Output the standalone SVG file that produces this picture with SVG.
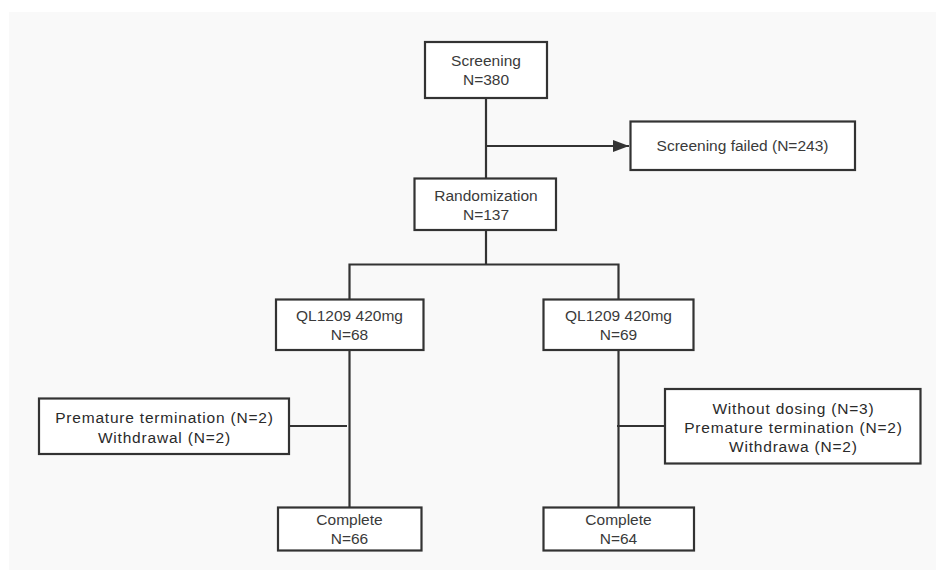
<svg xmlns="http://www.w3.org/2000/svg" width="936" height="570" viewBox="0 0 936 570">
<style>
.box{fill:#ffffff;stroke:#333333;stroke-width:2.2}
.t{font-family:"Liberation Sans",Arial,sans-serif;font-size:15.5px;fill:#3a3a3a;text-anchor:middle}
.s{font-family:"Liberation Sans",Arial,sans-serif;font-size:15.5px;letter-spacing:0.8px;fill:#2a2a2a;text-anchor:middle}
.ln{fill:none;stroke:#333333;stroke-width:2.2}
</style>
<defs>
<marker id="arr" markerUnits="userSpaceOnUse" markerWidth="17" markerHeight="12" refX="16" refY="6" orient="auto">
<path d="M0,0 L16,6 L0,12 Z" fill="#333333"/>
</marker>
</defs>
<rect x="0" y="0" width="936" height="570" fill="#ffffff"/>
<rect x="9" y="12" width="927" height="558" fill="#f9f9f9"/>
<g id="connectors">
<path class="ln" d="M486,98 V178"/>
<path class="ln" d="M486,146 H629" marker-end="url(#arr)"/>
<path class="ln" d="M486,230 V264.5"/>
<path class="ln" d="M349.5,299 V264.5 H618.5 V299"/>
<path class="ln" d="M349.5,350 V507.5"/>
<path class="ln" d="M618.5,350 V507.5"/>
<path class="ln" d="M289,426 H347"/>
<path class="ln" d="M617,426 H665"/>
</g>
<g id="screening">
<rect class="box" x="425" y="42" width="122" height="56"/>
<text class="t" x="486" y="66">Screening</text>
<text class="t" x="486" y="85">N=380</text>
</g>
<g id="screening-failed">
<rect class="box" x="630.5" y="121.5" width="224.5" height="48.5"/>
<text class="t" x="742.5" y="151">Screening failed (N=243)</text>
</g>
<g id="randomization">
<rect class="box" x="414.5" y="178.5" width="141.5" height="51.5"/>
<text class="t" x="486" y="201">Randomization</text>
<text class="t" x="486" y="220">N=137</text>
</g>
<g id="arm-a">
<rect class="box" x="276" y="299.5" width="147.5" height="50.5"/>
<text class="t" x="349.5" y="321">QL1209 420mg</text>
<text class="t" x="349.5" y="340">N=68</text>
</g>
<g id="arm-b">
<rect class="box" x="543.5" y="299.5" width="150" height="50.5"/>
<text class="t" x="618.5" y="321">QL1209 420mg</text>
<text class="t" x="618.5" y="340">N=69</text>
</g>
<g id="dropout-a">
<rect class="box" x="39" y="398.5" width="250" height="55.5"/>
<text class="s" x="164.4" y="423">Premature termination (N=2)</text>
<text class="s" x="164.4" y="442.5">Withdrawal (N=2)</text>
</g>
<g id="dropout-b">
<rect class="box" x="665" y="389" width="255.5" height="74.5"/>
<text class="s" x="793.4" y="413.5">Without dosing (N=3)</text>
<text class="s" x="793.4" y="432.5">Premature termination (N=2)</text>
<text class="s" x="793.4" y="451.5">Withdrawa (N=2)</text>
</g>
<g id="complete-a">
<rect class="box" x="278" y="507.5" width="143.5" height="43"/>
<text class="t" x="349.5" y="525">Complete</text>
<text class="t" x="349.5" y="544">N=66</text>
</g>
<g id="complete-b">
<rect class="box" x="543.5" y="507.5" width="150.5" height="43"/>
<text class="t" x="618.5" y="525">Complete</text>
<text class="t" x="618.5" y="544">N=64</text>
</g>
</svg>
